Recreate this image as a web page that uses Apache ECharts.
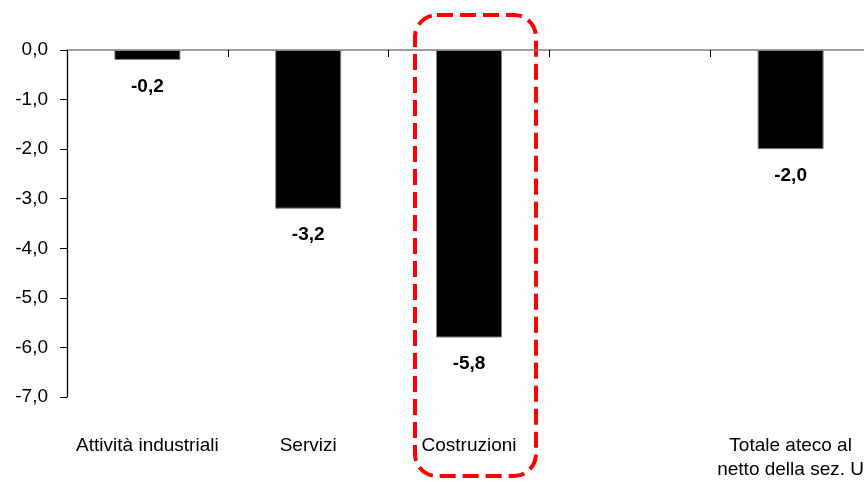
<!DOCTYPE html>
<html>
<head>
<meta charset="utf-8">
<script src="https://cdn.jsdelivr.net/npm/echarts@6/dist/echarts.min.js"></script>
<style>html,body{margin:0;padding:0;background:#fff;overflow:hidden;width:864px;height:482px}#c{width:872px;height:482px}</style>
</head>
<body>
<div id="c"></div>
<script>
const categories = ['Attività industriali', 'Servizi', 'Costruzioni', '', 'Totale ateco al\nnetto della sez. U'];
const values = [-0.2, -3.2, -5.8, null, -2.0];
const yTicks = { min: -7, max: 0, interval: 1 };
const highlighted = 'Costruzioni';

const fmt = v => v.toFixed(1).replace('.', ',');
const chart = echarts.init(document.getElementById('c'));
chart.setOption({
  animation: false,
  backgroundColor: '#fff',
  grid: { left: 67, top: 50, width: 804, bottom: 85, containLabel: false },
  xAxis: [{
    type: 'category', data: categories, position: 'bottom',
    axisLine: { show: false, onZero: false }, axisTick: { show: false },
    axisLabel: { margin: 37, fontFamily: 'Liberation Sans, Arial', fontSize: 19, lineHeight: 24, color: '#000', interval: 0 }
  }, {
    type: 'category', data: categories, position: 'top',
    axisLine: { show: true, onZero: false, lineStyle: { color: '#7f7f7f', width: 1.5 } },
    axisTick: { show: true, inside: true, length: 7, lineStyle: { color: '#000', width: 1 } },
    axisLabel: { show: false }
  }],
  yAxis: {
    type: 'value', min: yTicks.min, max: yTicks.max, interval: yTicks.interval,
    axisLine: { show: true, lineStyle: { color: '#000', width: 1.3 } },
    axisTick: { show: true, length: 7, lineStyle: { color: '#000' } },
    splitLine: { show: false },
    axisLabel: { formatter: fmt, margin: 19, fontFamily: 'Liberation Sans, Arial', fontSize: 19, color: '#000' }
  },
  series: [{
    type: 'bar', xAxisIndex: 0, data: values, barWidth: 66,
    itemStyle: { color: '#000', borderColor: '#808080', borderWidth: 1 },
    label: { show: true, position: 'bottom', distance: 17, formatter: p => fmt(p.value),
      fontFamily: 'Liberation Sans, Arial', fontWeight: 'bold', fontSize: 19, color: '#000' }
  }]
});

const cx = chart.convertToPixel({ xAxisIndex: 0 }, highlighted);
chart.setOption({
  graphic: [{
    type: 'rect', silent: true,
    shape: { x: cx - 54, y: 15, width: 121, height: 461, r: 22 },
    style: { fill: 'none', stroke: '#ff0000', lineWidth: 4, lineDash: [16, 7] }
  }]
});
</script>
</body>
</html>
